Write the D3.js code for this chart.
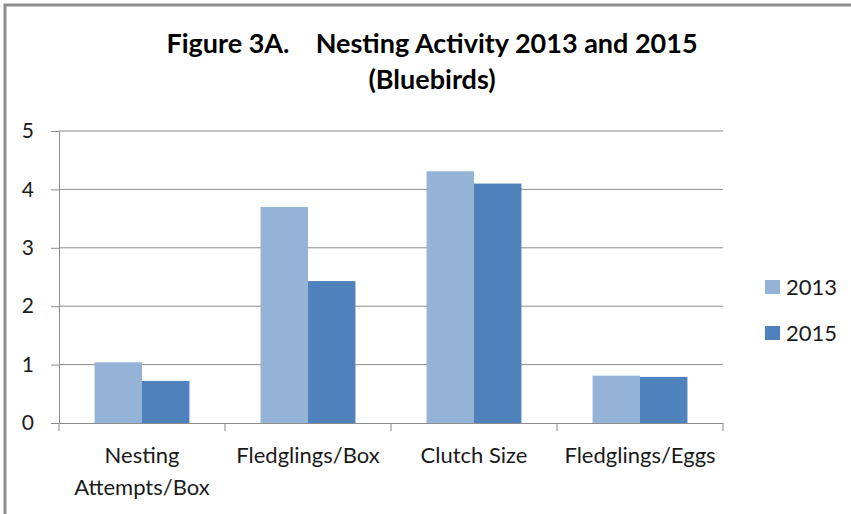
<!DOCTYPE html>
<html lang="en">
<style>
body { margin: 0; background: #fff; }
text { font-family: Lato, "Open Sans", sans-serif; }
.grid line { stroke: #8c8c8c; stroke-width: 1px; }
</style>
<script type="text/javascript" src="https://d3js.org/d3.v7.min.js"></script>
<body>
<script type="text/javascript">

// Chart data
var categories = ["Nesting Attempts/Box", "Fledglings/Box", "Clutch Size", "Fledglings/Eggs"];
var series = ["2013", "2015"];
var values2013 = [1.04, 3.70, 4.31, 0.81];
var values2015 = [0.72, 2.43, 4.10, 0.79];
var yTicks = [0, 1, 2, 3, 4, 5];
var colors = ["#95b3d7", "#4f81bd"];

var width = 851, height = 514;
var plot = { left: 59, right: 723, top: 131, bottom: 423 };

var svg = d3.select("body").append("svg")
    .attr("width", width)
    .attr("height", height);

svg.append("rect")
    .attr("width", width).attr("height", height)
    .attr("fill", "#fff");

// outer chart frame (runs off the right and bottom edge)
svg.append("rect")
    .attr("x", 5).attr("y", 5)
    .attr("width", width + 20).attr("height", height + 20)
    .attr("fill", "none")
    .attr("stroke", "#8f8f8f")
    .attr("stroke-width", 3);

// Title
var title = svg.append("text")
    .attr("text-anchor", "middle")
    .attr("font-weight", "bold")
    .attr("font-size", 27)
    .attr("fill", "#000");
title.append("tspan").attr("x", 432).attr("y", 53)
    .text("Figure 3A.\u00a0\u00a0\u00a0\u00a0Nesting Activity 2013 and 2015");
title.append("tspan").attr("x", 432).attr("y", 89).text("(Bluebirds)");

// Scales
var x = d3.scaleBand().domain(categories).range([plot.left, plot.right]).paddingInner(0).paddingOuter(0);
var inner = d3.scaleBand().domain(series).range([0, x.bandwidth()]).paddingInner(0).paddingOuter(0.75);
var y = d3.scaleLinear().domain([0, 5]).range([plot.bottom, plot.top]);

// Gridlines
svg.append("g").attr("class", "grid")
  .selectAll("line")
  .data(yTicks.filter(function(d) { return d > 0; }))
  .enter().append("line")
    .attr("x1", plot.left).attr("x2", plot.right)
    .attr("y1", function(d) { return y(d); })
    .attr("y2", function(d) { return y(d); });

// Bars
var rows = categories.map(function(c, i) {
  return { cat: c, vals: [values2013[i], values2015[i]] };
});

var groups = svg.append("g").selectAll("g")
  .data(rows)
  .enter().append("g")
    .attr("transform", function(d) { return "translate(" + x(d.cat) + ",0)"; });

groups.selectAll("rect")
  .data(function(d) { return d.vals.map(function(v, i) { return { s: series[i], v: v, i: i }; }); })
  .enter().append("rect")
    .attr("x", function(d) { return inner(d.s); })
    .attr("width", inner.bandwidth())
    .attr("y", function(d) { return y(d.v); })
    .attr("height", function(d) { return y(0) - y(d.v); })
    .attr("fill", function(d) { return colors[d.i]; });

// Y axis
var yAxis = svg.append("g")
    .attr("transform", "translate(" + plot.left + ",0)")
    .call(d3.axisLeft(y).tickValues(yTicks).tickFormat(d3.format("d")).tickSize(8).tickPadding(17));
yAxis.selectAll("path, line").attr("stroke", "#8c8c8c");
yAxis.selectAll("text")
    .attr("font-family", "Lato, 'Open Sans', sans-serif")
    .attr("font-size", 21).attr("fill", "#1a1a1a");

// X axis
var xAxis = svg.append("g")
    .attr("transform", "translate(0," + plot.bottom + ")")
    .call(d3.axisBottom(x).tickSize(0).tickFormat(""));
xAxis.select("path").attr("stroke", "#8c8c8c");

// category tick marks at band edges
xAxis.selectAll("line.edge")
  .data(categories.map(function(c) { return x(c); }).concat([plot.right]))
  .enter().append("line")
    .attr("class", "edge")
    .attr("x1", function(d) { return d; }).attr("x2", function(d) { return d; })
    .attr("y1", 0).attr("y2", 8)
    .attr("stroke", "#8c8c8c");

// category labels (wrapped like the original)
var labelLines = {
  "Nesting Attempts/Box": ["Nesting", "Attempts/Box"],
  "Fledglings/Box": ["Fledglings/Box"],
  "Clutch Size": ["Clutch Size"],
  "Fledglings/Eggs": ["Fledglings/Eggs"]
};
svg.append("g").selectAll("text")
  .data(categories)
  .enter().append("text")
    .attr("text-anchor", "middle")
    .attr("font-size", 22)
    .attr("fill", "#1a1a1a")
    .each(function(c) {
      var t = d3.select(this);
      labelLines[c].forEach(function(line, i) {
        t.append("tspan")
          .attr("x", x(c) + x.bandwidth() / 2)
          .attr("y", 463 + i * 32)
          .text(line);
      });
    });

// Legend
var legend = svg.append("g").selectAll("g")
  .data(series)
  .enter().append("g")
    .attr("transform", function(d, i) { return "translate(765," + (280 + i * 46) + ")"; });
legend.append("rect")
    .attr("width", 15).attr("height", 14)
    .attr("fill", function(d, i) { return colors[i]; });
legend.append("text")
    .attr("x", 21).attr("y", 15)
    .attr("font-size", 22)
    .attr("fill", "#1a1a1a")
    .text(function(d) { return d; });

</script>
</body>
</html>
